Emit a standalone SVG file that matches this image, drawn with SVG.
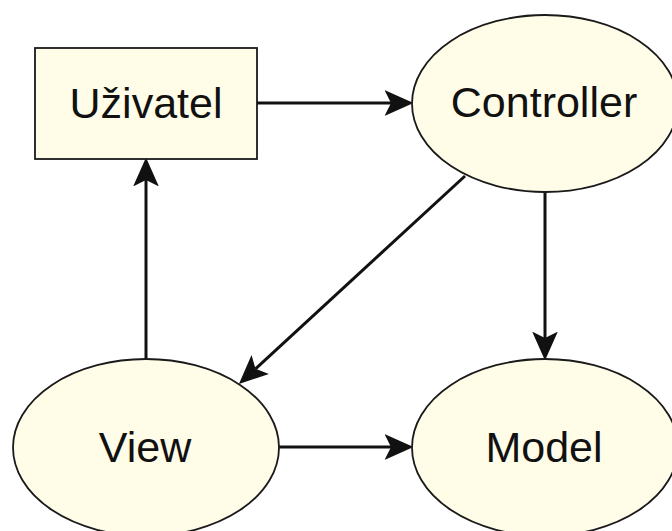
<svg xmlns="http://www.w3.org/2000/svg" width="672" height="531" viewBox="0 0 672 531">
  <style>
    .node { fill: #FFFCE8; stroke: #1a1a1a; stroke-width: 1.8; }
    .label { font-family: "Liberation Sans", Arial, sans-serif; font-size: 43px; fill: #111; text-anchor: middle; }
    .edge { stroke: #111; stroke-width: 3; fill: none; marker-end: url(#arrow); }
  </style>
  <defs>
    <marker id="arrow" markerUnits="userSpaceOnUse" markerWidth="30" markerHeight="30" viewBox="0 -13 28 26" refX="6" refY="0" orient="auto">
      <path d="M27,0 L0,-12 L6,0 L0,12 Z" fill="#111"/>
    </marker>
  </defs>
  <rect width="672" height="531" fill="#ffffff"/>
  <g id="connectors">
    <line class="edge" x1="257" y1="103" x2="391" y2="103"/>
    <line class="edge" x1="545" y1="192" x2="545" y2="338"/>
    <line class="edge" x1="465" y1="176" x2="255.5" y2="368.8"/>
    <line class="edge" x1="146" y1="359" x2="146" y2="180"/>
    <line class="edge" x1="279" y1="447" x2="391" y2="447"/>
  </g>
  <g id="uzivatel">
    <rect class="node" x="35" y="48" width="222" height="111"/>
    <text class="label" x="146" y="118">Uživatel</text>
  </g>
  <g id="controller">
    <ellipse class="node" cx="545" cy="103.5" rx="133" ry="88.5"/>
    <text class="label" x="544" y="117">Controller</text>
  </g>
  <g id="view">
    <ellipse class="node" cx="146" cy="447.5" rx="133" ry="88.5"/>
    <text class="label" x="145" y="462">View</text>
  </g>
  <g id="model">
    <ellipse class="node" cx="545" cy="447.5" rx="133" ry="88.5"/>
    <text class="label" x="544" y="462">Model</text>
  </g>
</svg>
